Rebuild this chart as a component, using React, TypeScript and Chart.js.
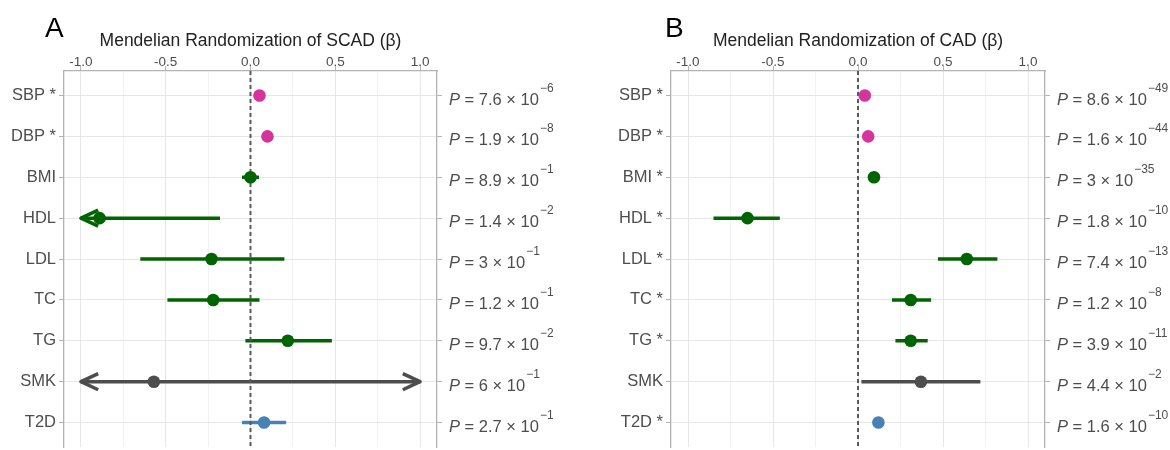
import React, { useEffect, useRef } from "react";
import { Chart, registerables } from "chart.js";

Chart.register(...registerables);

const FONT = "'Liberation Sans', Arial, Helvetica, sans-serif";

// ---- categories ----
const traits = ["SBP", "DBP", "BMI", "HDL", "LDL", "TC", "TG", "SMK", "T2D"];
const traitGroup = ["bp", "bp", "metabolic", "metabolic", "metabolic", "metabolic", "metabolic", "smoking", "diabetes"];
const groupColors: Record<string, string> = {
  bp: "#d4349c",
  metabolic: "#006400",
  smoking: "#4d4d4d",
  diabetes: "#4682b4",
};

// ---- axis ----
const xMajorTicks = [-1, -0.5, 0, 0.5, 1];
const xMinorTicks = [-0.75, -0.25, 0.25, 0.75];
const xLimits = [-1.1, 1.1];
const ciClip = [-1, 1];

// ---- Panel A: SCAD ----
const scadTitle = "Mendelian Randomization of SCAD (\u03b2)";
const scadBeta = [0.053, 0.1, 0.0, -0.89, -0.23, -0.22, 0.22, -0.57, 0.08];
const scadLower = [0.03, 0.07, -0.05, -1.6, -0.65, -0.49, -0.03, -2.2, -0.05];
const scadUpper = [0.08, 0.13, 0.05, -0.18, 0.2, 0.053, 0.48, 1.06, 0.21];
const scadSig = [true, true, false, false, false, false, false, false, false];
const scadPMant = ["7.6", "1.9", "8.9", "1.4", "3", "1.2", "9.7", "6", "2.7"];
const scadPExp = [-6, -8, -1, -2, -1, -1, -2, -1, -1];

// ---- Panel B: CAD ----
const cadTitle = "Mendelian Randomization of CAD (\u03b2)";
const cadBeta = [0.04, 0.06, 0.094, -0.65, 0.64, 0.31, 0.31, 0.37, 0.12];
const cadLower = [0.03, 0.05, 0.08, -0.85, 0.47, 0.2, 0.22, 0.02, 0.09];
const cadUpper = [0.05, 0.07, 0.11, -0.46, 0.82, 0.43, 0.41, 0.72, 0.15];
const cadSig = [true, true, true, true, true, true, true, false, true];
const cadPMant = ["8.6", "1.6", "3", "1.8", "7.4", "1.2", "3.9", "4.4", "1.6"];
const cadPExp = [-49, -44, -35, -10, -13, -8, -11, -2, -10];

type PanelProps = {
  letter: string;
  title: string;
  beta: number[];
  lower: number[];
  upper: number[];
  sig: boolean[];
  pMant: string[];
  pExp: number[];
  left: number;
  leftWidth: number;
  rightWidth: number;
  letterX: number;
};

const W = 585;
const H = 460;

function Panel(props: PanelProps) {
  const ref = useRef<HTMLCanvasElement>(null);
  useEffect(() => {
    const canvas = ref.current!;
    const colors = traitGroup.map((g) => groupColors[g]);
    const labels = traits.map((t, i) => (props.sig[i] ? `${t} *` : t));
    const rows = traits.map((_, i) => i);
    const clip = (v: number) => Math.max(ciClip[0], Math.min(ciClip[1], v));
    const allX = [...xMajorTicks, ...xMinorTicks].sort((a, b) => a - b);
    const isMajor = (v: number) => xMajorTicks.some((m) => Math.abs(m - v) < 1e-9);
    const yMin = -0.6;
    const yMax = traits.length - 1 + 0.6;

    const ciSets = rows.map((i) => ({
      type: "line" as const,
      data: [
        { x: clip(props.lower[i]), y: i },
        { x: clip(props.upper[i]), y: i },
      ],
      borderColor: colors[i],
      borderWidth: 3.5,
      pointRadius: 0,
      pointHoverRadius: 0,
      showLine: true,
      fill: false,
      borderCapStyle: "butt" as const,
    }));

    const drawArrow = (ctx: CanvasRenderingContext2D, tipX: number, y: number, dir: number, color: string) => {
      const len = 19;
      const ang = (25 * Math.PI) / 180;
      const bx = tipX - dir * len * Math.cos(ang);
      const dy = len * Math.sin(ang);
      ctx.beginPath();
      ctx.moveTo(bx, y - dy);
      ctx.lineTo(tipX, y);
      ctx.lineTo(bx, y + dy);
      ctx.strokeStyle = color;
      ctx.lineWidth = 3.5;
      ctx.lineJoin = "round";
      ctx.lineCap = "butt";
      ctx.stroke();
    };

    const plugin = {
      id: "forestExtras",
      beforeDatasetsDraw(chart: any) {
        const ctx = chart.ctx as CanvasRenderingContext2D;
        const xs = chart.scales.x;
        const ys = chart.scales.y;
        ctx.save();
        rows.forEach((i) => {
          const y = ys.getPixelForValue(i);
          if (props.lower[i] < ciClip[0]) drawArrow(ctx, xs.getPixelForValue(ciClip[0]), y, -1, colors[i]);
          if (props.upper[i] > ciClip[1]) drawArrow(ctx, xs.getPixelForValue(ciClip[1]), y, 1, colors[i]);
        });
        ctx.restore();
      },
      afterDraw(chart: any) {
        const ctx = chart.ctx as CanvasRenderingContext2D;
        const ys = chart.scales.y;
        const area = chart.chartArea;
        ctx.save();
        ctx.textAlign = "left";
        ctx.textBaseline = "alphabetic";
        ctx.fillStyle = "#4d4d4d";
        rows.forEach((i) => {
          const y = ys.getPixelForValue(i);
          const base = y + 9;
          let x = area.right + 12;
          ctx.font = `italic 16.5px ${FONT}`;
          ctx.fillText("P", x, base);
          x += ctx.measureText("P").width;
          ctx.font = `16.5px ${FONT}`;
          const main = ` = ${props.pMant[i]} \u00d7 10`;
          ctx.fillText(main, x, base);
          x += ctx.measureText(main).width;
          const e = props.pExp[i];
          const expText = e < 0 ? `\u2212${Math.abs(e)}` : String(e);
          ctx.font = `12px ${FONT}`;
          ctx.fillText(expText, x + 1, base - 13);
        });
        ctx.fillStyle = "#000000";
        ctx.font = `28px ${FONT}`;
        ctx.fillText(props.letter, props.letterX, 37);
        ctx.restore();
      },
    };

    const chart = new Chart(canvas, {
      type: "scatter",
      data: {
        datasets: [
          {
            type: "scatter",
            data: props.beta.map((b, i) => ({ x: b, y: i })),
            pointBackgroundColor: colors,
            pointBorderColor: colors,
            pointBorderWidth: 0,
            pointRadius: 6.3,
            pointHoverRadius: 6.3,
          } as any,
          {
            type: "line",
            data: [
              { x: 0, y: yMin },
              { x: 0, y: yMax },
            ],
            borderColor: "#5a5a5a",
            borderWidth: 2,
            borderDash: [4, 3],
            pointRadius: 0,
            pointHoverRadius: 0,
            showLine: true,
            fill: false,
          } as any,
          ...(ciSets as any[]),
        ],
      },
      options: {
        responsive: false,
        animation: false,
        devicePixelRatio: 1,
        layout: { padding: { top: 0, left: 0, right: 0, bottom: H - 454 } },
        plugins: {
          legend: { display: false },
          tooltip: { enabled: false },
        },
        events: [],
        scales: {
          x: {
            type: "linear",
            position: "top",
            min: xLimits[0],
            max: xLimits[1],
            afterBuildTicks: (s: any) => {
              s.ticks = allX.map((v) => ({ value: v }));
            },
            afterFit: (s: any) => {
              s.height = 71;
            },
            ticks: {
              autoSkip: false,
              maxRotation: 0,
              padding: -4,
              color: "#4d4d4d",
              font: { family: FONT, size: 13.5 },
              callback: (v: any) => (isMajor(Number(v)) ? Number(v).toFixed(1) : ""),
            },
            grid: {
              color: (c: any) => (isMajor(c.tick?.value ?? 0) ? "#e6e6e6" : "#f2f2f2"),
              lineWidth: 1,
              tickLength: 5,
              tickColor: (c: any) => (isMajor(c.tick?.value ?? 0) ? "#b3b3b3" : "rgba(0,0,0,0)"),
            },
            border: { color: "#b3b3b3", width: 1.3 },
            title: {
              display: true,
              text: props.title,
              color: "#222222",
              font: { family: FONT, size: 17.5 },
              padding: { top: 31, bottom: 0 },
            },
          },
          y: {
            type: "linear",
            position: "left",
            reverse: true,
            min: yMin,
            max: yMax,
            afterBuildTicks: (s: any) => {
              s.ticks = rows.map((v) => ({ value: v }));
            },
            afterFit: (s: any) => {
              s.width = props.leftWidth;
            },
            ticks: {
              autoSkip: false,
              padding: 3,
              color: "#4d4d4d",
              font: { family: FONT, size: 16.5 },
              callback: (v: any) => labels[Math.round(Number(v))] ?? "",
            },
            grid: {
              color: "#e6e6e6",
              lineWidth: 1,
              tickLength: 5,
              tickColor: "#b3b3b3",
            },
            border: { color: "#b3b3b3", width: 1.3 },
          },
          yR: {
            type: "linear",
            position: "right",
            reverse: true,
            min: yMin,
            max: yMax,
            afterBuildTicks: (s: any) => {
              s.ticks = rows.map((v) => ({ value: v }));
            },
            afterFit: (s: any) => {
              s.width = props.rightWidth;
            },
            ticks: {
              autoSkip: false,
              callback: () => "",
            },
            grid: {
              drawOnChartArea: false,
              tickLength: 5,
              tickColor: "#b3b3b3",
            },
            border: { color: "#b3b3b3", width: 1.3 },
          },
        },
      } as any,
      plugins: [plugin],
    });
    return () => chart.destroy();
  }, []);
  return (
    <canvas
      ref={ref}
      width={W}
      height={H}
      style={{ position: "absolute", left: props.left, top: 0, display: "block", width: W, height: H }}
    />
  );
}

export default function App() {
  return (
    <div
      style={{
        position: "fixed",
        left: 0,
        top: 0,
        width: 1170,
        height: 450,
        overflow: "hidden",
        background: "#ffffff",
      }}
    >
      <Panel
        letter="A"
        title={scadTitle}
        beta={scadBeta}
        lower={scadLower}
        upper={scadUpper}
        sig={scadSig}
        pMant={scadPMant}
        pExp={scadPExp}
        left={0}
        leftWidth={64}
        rightWidth={W - 437}
        letterX={45}
      />
      <Panel
        letter="B"
        title={cadTitle}
        beta={cadBeta}
        lower={cadLower}
        upper={cadUpper}
        sig={cadSig}
        pMant={cadPMant}
        pExp={cadPExp}
        left={585}
        leftWidth={671 - 585}
        rightWidth={W - (1045 - 585)}
        letterX={665 - 585}
      />
    </div>
  );
}
